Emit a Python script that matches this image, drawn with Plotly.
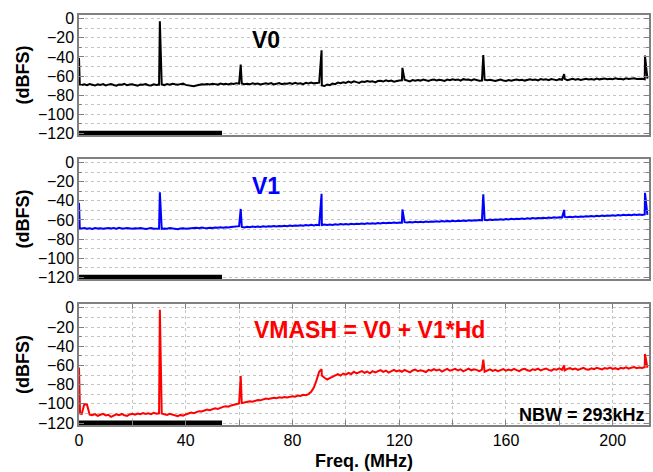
import plotly.graph_objects as go

# ---------------- data ----------------
# noise-floor readings on a 1 MHz grid (f = 0 .. 213 MHz), dBFS
FLOOR_F = list(range(0, 214))

FLOOR_V0 = [
    -41.0,
    -69.5, -68.8, -69.6, -68.4, -69.2, -70.0, -68.7, -69.3, -68.5, -69.8,
    -69.0, -68.3, -69.4, -70.1, -68.9, -69.2, -68.2, -69.7, -69.0, -68.6,
    -69.5, -70.2, -68.8, -69.1, -68.4, -69.6, -69.9, -68.7, -69.3, -69.0,
    -68.9, -69.5, -68.3, -69.0, -68.1, -68.7, -69.2, -68.5, -68.0, -69.3,
    -69.8, -70.3, -70.6, -69.9, -69.2, -68.6, -69.0, -68.4, -68.8, -68.1,
    -68.5, -69.0, -67.9, -68.6, -68.2, -68.9, -67.8, -68.4, -67.5, -68.0,
    -67.8, -68.5, -68.1, -68.7, -67.6, -68.3, -67.9, -68.8, -68.2, -67.7,
    -68.4, -67.5, -68.9, -68.0, -67.3, -68.6, -67.8, -68.1, -67.4, -68.3,
    -67.2, -68.0, -67.6, -68.5, -67.1, -67.9, -66.8, -67.7, -67.3, -67.0,
    -69.8, -70.5, -68.9, -69.6, -67.8, -68.5, -66.9, -67.6, -66.5, -67.3,
    -65.8, -66.9, -65.5, -66.4, -67.2, -65.7, -66.3, -65.2, -66.0, -65.4,
    -66.6, -65.3, -64.9, -65.8, -64.6, -65.5, -64.8, -66.0, -65.1, -64.7,
    -64.5, -64.0, -64.9, -65.6, -64.3, -65.0, -64.2, -64.8, -63.7, -64.6,
    -65.2, -64.1, -63.6, -64.7, -63.9, -64.4, -65.1, -63.8, -64.5, -63.5,
    -64.2, -63.6, -64.9, -63.3, -64.0, -63.7, -64.6, -63.4, -64.3, -65.0,
    -64.8, -63.9, -64.5, -64.0, -64.7, -65.3, -64.4, -63.8, -64.6, -65.1,
    -64.3, -65.0, -64.2, -63.6, -64.5, -63.9, -64.8, -64.1, -63.4, -64.2,
    -63.7, -64.6, -63.2, -64.0, -63.5, -64.4, -63.1, -63.8, -64.5, -63.3,
    -63.9, -63.0, -64.3, -63.6, -62.9, -63.8, -63.2, -64.1, -63.4, -62.8,
    -63.6, -63.1, -63.9, -62.7, -63.5, -63.0, -62.6, -63.4, -62.9, -63.3,
    -62.5, -63.2, -62.8, -63.6, -62.4, -63.1, -62.7, -62.3, -63.0, -62.6,
    -62.9, -63.4, -62.7,
]

FLOOR_V1 = [
    -42.0,
    -69.0, -68.6, -69.2, -68.8, -69.4, -68.5, -69.1, -68.7, -69.3, -68.9,
    -68.4, -69.0, -68.6, -69.2, -68.3, -68.9, -69.1, -68.5, -68.8, -69.3,
    -68.7, -69.0, -68.4, -68.9, -69.5, -69.1, -68.6, -69.3, -68.8, -69.0,
    -69.4, -68.9, -69.2, -68.6, -69.0, -69.5, -69.7, -69.1, -68.8, -69.3,
    -68.9, -68.5, -68.8, -68.2, -68.6, -68.0, -68.4, -68.7, -68.1, -68.5,
    -67.9, -68.3, -67.8, -68.2, -67.6, -68.0, -67.4, -67.1, -66.8, -66.5,
    -67.3, -67.8, -67.2, -67.6, -67.0, -67.5, -66.9, -67.3, -66.7, -67.1,
    -66.6, -67.0, -66.4, -66.9, -66.3, -66.7, -66.1, -66.5, -65.9, -66.4,
    -65.8, -66.2, -65.6, -66.0, -65.4, -65.9, -65.2, -65.7, -65.0, -65.5,
    -65.3, -64.8, -65.4, -64.9, -65.2, -64.6, -65.0, -64.4, -64.8, -64.3,
    -64.7, -64.1, -64.5, -63.9, -64.3, -63.8, -64.2, -63.6, -64.0, -63.5,
    -63.9, -63.3, -63.7, -63.1, -63.5, -62.9, -63.3, -62.8, -63.2, -62.6,
    -62.9, -62.4, -62.8, -62.2, -62.6, -62.0, -62.5, -61.9, -62.3, -61.7,
    -62.1, -61.6, -62.0, -61.4, -61.8, -61.2, -61.7, -61.1, -61.5, -60.9,
    -61.3, -60.8, -61.2, -60.6, -61.0, -60.4, -60.9, -60.3, -60.7, -60.1,
    -60.4, -59.9, -60.3, -59.7, -60.1, -59.5, -59.9, -59.3, -59.7, -59.1,
    -59.5, -58.9, -59.3, -58.7, -59.1, -58.5, -58.9, -58.3, -58.7, -58.1,
    -58.5, -57.9, -58.3, -57.7, -58.1, -57.5, -57.9, -57.3, -57.7, -57.1,
    -57.4, -56.9, -57.3, -56.7, -57.1, -56.5, -56.9, -56.3, -56.7, -56.1,
    -56.5, -55.9, -56.3, -55.7, -56.1, -55.5, -55.9, -55.3, -55.7, -55.1,
    -55.5, -54.9, -55.3, -54.7, -55.1, -54.6, -55.0, -54.4, -54.8, -54.3,
    -54.7, -54.2, -54.6,
]

FLOOR_VMASH = [
    -62.0,
    -110.5, -100.2, -100.8, -111.3, -111.8, -110.6, -112.4, -111.1, -110.3, -112.0,
    -111.4, -113.5, -112.2, -110.9, -111.7, -110.5, -111.9, -112.6, -111.0, -110.4,
    -111.2, -110.1, -110.8, -109.6, -110.5, -109.9, -110.7, -109.4, -110.2, -109.8,
    -110.0, -110.9, -111.6, -110.4, -111.2, -112.0, -112.8, -111.5, -112.3, -111.0,
    -110.2, -109.1, -109.8, -108.4, -107.6, -107.9, -106.8, -105.9, -106.5, -105.2,
    -104.6, -105.3, -103.9, -103.1, -102.5, -102.9, -101.6, -100.8, -100.1, -99.5,
    -99.2, -98.6, -98.1, -97.4, -97.8, -96.6, -95.9, -96.3, -95.1, -94.5,
    -94.9, -94.0, -93.6, -94.2, -93.1, -93.5, -92.8, -93.3, -92.5, -92.1,
    -92.6, -91.4, -91.8, -90.6, -90.9, -89.8, -87.5, -83.0, -75.5, -66.5,
    -70.5, -72.8, -74.6, -73.2, -71.5, -70.2, -69.0, -70.6, -68.4, -69.5,
    -67.8, -68.9, -66.5, -68.2, -67.0, -65.8, -67.6, -66.3, -68.1, -65.9,
    -67.2, -66.0, -64.8, -66.7, -65.3, -67.4, -65.6, -64.5, -66.2, -65.0,
    -66.5, -64.7, -65.9, -67.1, -65.2, -64.3, -66.0, -64.9, -65.7, -66.8,
    -64.6, -65.4, -63.9, -65.1, -64.2, -66.3, -64.8, -63.6, -65.5, -64.1,
    -63.5, -65.2, -64.0, -66.1, -64.4, -63.2, -65.0, -63.9, -64.6, -65.8,
    -64.2, -66.5, -65.3, -64.0, -65.7, -64.5, -66.0, -64.9, -63.8, -65.4,
    -64.3, -65.1, -63.6, -64.8, -65.9, -64.1, -63.4, -64.9, -65.6, -63.9,
    -64.7, -63.3, -65.2, -64.0, -63.1, -64.6, -65.4, -63.7, -64.3, -63.0,
    -64.5, -65.1, -63.5, -62.8, -64.0, -63.2, -64.7, -63.6, -62.5, -63.9,
    -64.4, -62.9, -63.8, -62.4, -63.5, -64.1, -62.7, -63.3, -62.2, -63.6,
    -62.8, -64.0, -62.5, -63.1, -61.9, -63.4, -62.3, -61.7, -62.9, -62.1,
    -62.6, -61.8, -62.4,
]

# spurs / harmonics (frequency MHz, level dBFS) and the edge drop point
SPUR_F_V0 = [0.3, 30.3, 60.6, 90.9, 121.2, 151.5, 181.8, 212.1]
SPUR_DB_V0 = [-69.0, -2.5, -48.0, -33.0, -51.5, -38.0, -58.0, -38.5]

SPUR_F_V1 = [0.3, 30.3, 60.6, 90.9, 121.2, 151.5, 181.8, 212.1]
SPUR_DB_V1 = [-69.0, -31.0, -48.5, -32.5, -49.0, -33.0, -49.5, -31.5]

SPUR_F_VMASH = [0.4, 30.3, 60.6, 90.9, 151.5, 181.8, 212.1]
SPUR_DB_VMASH = [-110.0, -2.0, -71.0, -64.0, -54.0, -60.0, -48.0]

# thick reference bar along the bottom of each panel (MHz span, level)
BAR_F = [0.0, 53.6]
BAR_DB = [-120.0, -120.0]

Y_TICKS = [0, -20, -40, -60, -80, -100, -120]
X_TICKS = [0, 40, 80, 120, 160, 200]
X_RANGE = [0, 213.6]
Y_RANGE = [-122, 4]

LABEL_V0 = "V0"
LABEL_V1 = "V1"
LABEL_VMASH = "VMASH = V0 + V1*Hd"
LABEL_NBW = "NBW = 293kHz"


def merge(ff, fv, sf, sv):
    pts = sorted(list(zip(ff, fv)) + list(zip(sf, sv)), key=lambda p: p[0])
    return [p[0] for p in pts], [p[1] for p in pts]


FONT = "Liberation Sans, Arial, sans-serif"
AXC = "#808080"
GRIDC = "#c4c4c4"

fig = go.Figure()

series = [
    (FLOOR_V0, SPUR_F_V0, SPUR_DB_V0, "#000000", "x", "y"),
    (FLOOR_V1, SPUR_F_V1, SPUR_DB_V1, "#0000ff", "x2", "y2"),
    (FLOOR_VMASH, SPUR_F_VMASH, SPUR_DB_VMASH, "#ff0000", "x3", "y3"),
]
for fv, sf, sv, col, xa, ya in series:
    xs, ys = merge(FLOOR_F, fv, sf, sv)
    fig.add_trace(go.Scatter(x=xs, y=ys, mode="lines", xaxis=xa, yaxis=ya,
                             line=dict(color=col, width=2), showlegend=False,
                             hoverinfo="skip"))
    fig.add_trace(go.Scatter(x=BAR_F, y=BAR_DB, mode="lines", xaxis=xa, yaxis=ya,
                             line=dict(color="#000000", width=5), showlegend=False,
                             hoverinfo="skip"))

domains = {"y": [0.707, 1.0], "y2": [0.356, 0.649], "y3": [0.0, 0.295]}

yax = dict(range=Y_RANGE, tickvals=Y_TICKS, ticks="inside", ticklen=5, tickcolor=AXC,
           showline=True, linecolor=AXC, linewidth=1.5, mirror="ticks",
           showgrid=True, gridcolor=GRIDC, griddash="dot", gridwidth=1,
           zeroline=False,
           minor=dict(dtick=10, ticks="inside", ticklen=3, tickcolor=AXC,
                      showgrid=True, gridcolor=GRIDC, griddash="dot", gridwidth=1),
           tickfont=dict(family=FONT, size=16, color="#000000"),
           title=dict(text="<b>(dBFS)</b>", font=dict(family=FONT, size=18, color="#000000"),
                      standoff=4))

xax_top = dict(range=X_RANGE, showline=True, linecolor=AXC, linewidth=1.5, mirror=True,
               ticks="", showticklabels=False, showgrid=False, zeroline=False)

xax_bot = dict(range=X_RANGE, showline=True, linecolor=AXC, linewidth=1.5, mirror="ticks",
               tickmode="linear", tick0=0, dtick=20, ticklabelstep=2,
               ticks="inside", ticklen=5, tickcolor=AXC,
               showgrid=True, gridcolor=GRIDC, griddash="dot", gridwidth=1, zeroline=False,
               tickfont=dict(family=FONT, size=16, color="#000000"),
               title=dict(text="<b>Freq. (MHz)</b>", font=dict(family=FONT, size=18, color="#000000"),
                          standoff=6))

fig.update_layout(
    width=653, height=472,
    margin=dict(l=79, r=2, t=15, b=47),
    paper_bgcolor="white", plot_bgcolor="white",
    xaxis=dict(xax_top, anchor="y", domain=[0, 1]),
    xaxis2=dict(xax_top, anchor="y2", domain=[0, 1], matches="x"),
    xaxis3=dict(xax_bot, anchor="y3", domain=[0, 1], matches="x"),
    yaxis=dict(yax, anchor="x", domain=domains["y"]),
    yaxis2=dict(yax, anchor="x2", domain=domains["y2"]),
    yaxis3=dict(yax, anchor="x3", domain=domains["y3"]),
)

ann = [
    (LABEL_V0, 70, -22, "x", "y", "#000000", 23, "center"),
    (LABEL_V1, 70, -24, "x2", "y2", "#0000ff", 23, "center"),
    (LABEL_VMASH, 108.7, -23, "x3", "y3", "#ff0000", 23, "center"),
    (LABEL_NBW, 212.8, -111.5, "x3", "y3", "#000000", 18, "right"),
]
for txt, ax_x, ax_y, xr, yr, col, sz, xa in ann:
    fig.add_annotation(text="<b>" + txt + "</b>", x=ax_x, y=ax_y, xref=xr, yref=yr,
                       showarrow=False, xanchor=xa, yanchor="middle",
                       font=dict(family=FONT, size=sz, color=col))

fig.write_html("out.html")
